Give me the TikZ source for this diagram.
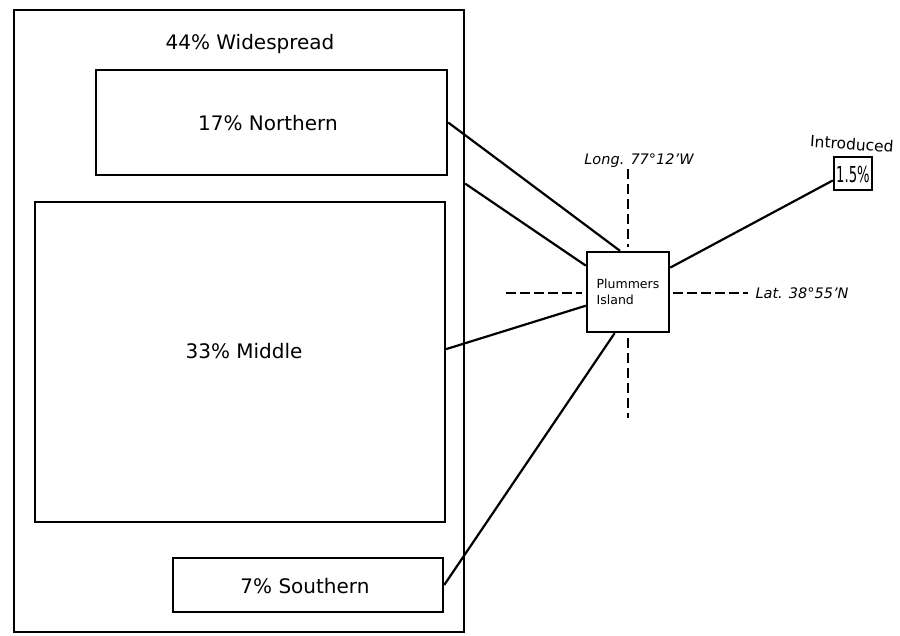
\documentclass[tikz,border=0pt]{standalone}
\usepackage{graphicx}
\usepackage{fontspec}
\setmainfont{DejaVu Sans}
\usetikzlibrary{calc}
\begin{document}
\begin{tikzpicture}[x=1pt,y=-1pt,
  box/.style={draw, line width=2.4pt, rectangle, inner sep=0pt},
  conn/.style={line width=2.2pt},
  grid/.style={line width=1.2pt, dash pattern=on 10pt off 5pt},
  big/.style={font=\fontsize{20}{24}\selectfont},
  small/.style={font=\fontsize{12.5}{16}\selectfont},
  geo/.style={font=\fontsize{14.5}{16}\selectfont\itshape}]
\useasboundingbox[fill=white] (0,0) rectangle (900,635);
% boxes
\node[box, minimum width=450pt, minimum height=622pt] (outer) at (239,321) {};
\node[big] (wlabel) at (250,44) {44\% Widespread};
\node[box, minimum width=351pt, minimum height=105pt] (north) at (271.5,122.5) {};
\node[big] (nlabel) at (268,123) {17\% Northern};
\node[box, minimum width=410pt, minimum height=320pt] (middle) at (240,362) {};
\node[big] (mlabel) at (244,351) {33\% Middle};
\node[box, minimum width=270pt, minimum height=54pt] (south) at (308,585) {};
\node[big] (slabel) at (305,586) {7\% Southern};
\node[box, small, minimum width=82pt, minimum height=80pt, align=left] (plum) at (628,292) {Plummers\\Island};
\node[box, minimum width=38pt, minimum height=33pt] (intro) at (853,173.5) {};
\node[font=\fontsize{22}{24}\selectfont] (ilabel) at (853,174) {\scalebox{0.6}[1]{1.5\%}};
\node[font=\fontsize{15.5}{18}\selectfont, rotate=-4] (itext) at (852,144) {Introduced};
% grid lines
\coordinate (ltop) at (628,169);
\coordinate (lbot) at (628,418);
\coordinate (lleft) at (506,293);
\coordinate (lright) at (748,293);
\draw[grid] (ltop) -- (628,247);
\draw[grid] (628,338) -- (lbot);
\draw[grid, dash pattern=on 10pt off 4pt] (lleft) -- (582,293);
\draw[grid, dash pattern=on 10pt off 4pt] (673,293) -- (lright);
\node[geo] (longl) at (639,161) {Long. 77°12'W};
\node[geo, anchor=west] (latl) at (752,293) {Lat. 38°55'N};
% connectors
\draw[conn] (north.east) -- (plum.101);
\draw[conn] ($(outer.north east)!0.28!(outer.south east)$) -- (plum.148);
\draw[conn] ($(middle.north east)!0.46!(middle.south east)$) -- (plum.198);
\draw[conn] (south.east) -- (plum.252);
\draw[conn] (plum.30) -- (intro.199);
\end{tikzpicture}
\end{document}
